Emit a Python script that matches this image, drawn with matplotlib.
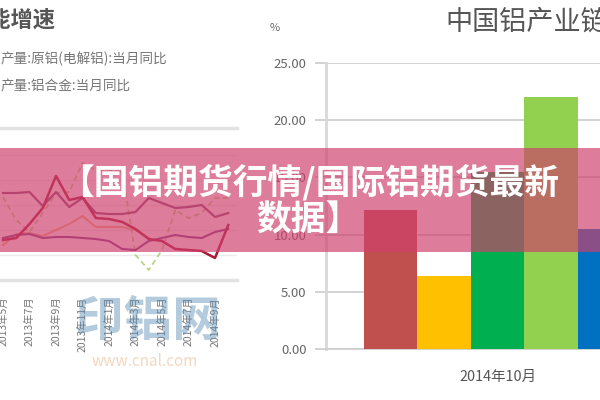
import matplotlib
matplotlib.use("Agg")
import matplotlib.pyplot as plt
from matplotlib.patches import Rectangle

plt.rcParams['font.family'] = ['Noto Sans CJK SC', 'DejaVu Sans']

months = ['2013年5月', '2013年6月', '2013年7月', '2013年8月', '2013年9月', '2013年10月',
          '2013年11月', '2013年12月', '2014年1月', '2014年2月', '2014年3月', '2014年4月',
          '2014年5月', '2014年6月', '2014年7月', '2014年8月', '2014年9月', '2014年10月']
series_red = [3.0, 3.4, 6.2, 9.4, 15.8, 11, 11.6, 7.4, 7.2, 6.6, 5.2, 3.2, 2.8, 1.2, 1, 0.8, -0.6, 6.0]
series_purple_up = [12.4, 12.4, 12.6, 9.8, 12.6, 9.6, 11.4, 8.4, 8.2, 8.2, 8.6, 11.4, 10.4, 9.4, 9.6, 10, 7.6, 8.4]
series_purple_low = [3.4, 4, 4.2, 3.4, 3.6, 3.6, 3.4, 3.2, 2.8, 1.2, 1, 2.8, 3.4, 4, 3.6, 3.4, 4.6, 5.2]
series_orange = [2, 4.2, 4.4, 3.8, 5, 6.2, 7.8, 5.6, 5.6, 5.6, 5, 3.4]
series_green = [11.6, 7, 4.6, 8.4, 12.4, 12.6, 18.4, 17, 17, 16.6, 0, -3, 1, 9, 7.4, 8.4, 11.4, 11.4]

bar_names = ['铝土矿', '氧化铝', '原铝', '铝合金', '铝材']
bar_values = [12.15, 6.4, 15.5, 22.0, 10.5]
bar_colors = ['#C0504D', '#FFC000', '#00B050', '#92D050', '#0070C0']

W, H = 600, 400
fig = plt.figure(figsize=(6, 4), dpi=100, facecolor='white')


def axes_px(x0, y0, x1, y1):
    return fig.add_axes([x0 / W, 1 - y1 / H, (x1 - x0) / W, (y1 - y0) / H])


def text_px(x, y, s, **kw):
    fig.text(x / W, 1 - y / H, s, va='center', **kw)


# left line chart
ax = axes_px(0, 128, 237, 280)
ax.set_xlim(-3 / 13.25, 234 / 13.25)
ax.set_ylim(-5, 25.4)
idx = list(range(len(months)))
ax.plot(idx[:len(series_orange)], series_orange, color='#F0A060', lw=1.5, alpha=.8)
ax.plot(idx, series_green, color='#A8C870', lw=1.3, ls=(0, (3, 2)), alpha=.8)
ax.plot(idx, series_purple_up, color='#8A4A78', lw=1.6)
ax.plot(idx, series_purple_low, color='#7A3F88', lw=1.5)
ax.plot(idx, series_red, color='#A81838', lw=1.8)
ax.set_yticks([0, 5, 10, 15, 20])
ax.yaxis.grid(True, color='#ececec', lw=1)
ax.tick_params(axis='y', length=0, labelleft=False)
ax.set_xticks(idx[::2])
ax.set_xticklabels(months[::2], rotation=90, fontsize=7.5, color='#777777')
ax.tick_params(axis='x', length=0, pad=12)
for s in ['left', 'right']:
    ax.spines[s].set_visible(False)
for s in ['top', 'bottom']:
    ax.spines[s].set_color('#e2e2e2')
    ax.spines[s].set_linewidth(2.5)
ax.patch.set_alpha(0)

# right bar chart
bx = axes_px(326, 63, 600, 349)
bx.set_xlim(-1.206, 3.916)
bx.set_ylim(0, 25)
bx.bar(range(len(bar_values)), bar_values, width=1.0, color=bar_colors, zorder=3)
bx.set_yticks([0, 5, 10, 15, 20, 25])
bx.set_yticklabels(['0.00', '5.00', '10.00', '15.00', '20.00', '25.00'], fontsize=9.5, color='#666666')
bx.yaxis.grid(True, color='#cfcfcf', lw=1.3, zorder=0)
bx.tick_params(axis='y', length=8, width=1.3, color='#cfcfcf', pad=6)
bx.set_xticks([2])
bx.set_xticklabels(['2014年10月'], fontsize=10.4, color='#555555')
bx.tick_params(axis='x', length=0, pad=15)
for s in ['top', 'right']:
    bx.spines[s].set_visible(False)
bx.spines['left'].set_color('#d8d8d8')
bx.spines['left'].set_linewidth(2)
bx.spines['bottom'].set_color('#cfcfcf')
bx.spines['bottom'].set_linewidth(1.3)

# other text
text_px(55, 20, '产能增速', ha='right', fontsize=16, fontweight='bold', color='#555555')
text_px(167, 59, '产量:原铝(电解铝):当月同比', ha='right', fontsize=9.8, color='#777777')
text_px(131, 86, '产量:铝合金:当月同比', ha='right', fontsize=9.8, color='#777777')
text_px(275, 28, '%', ha='center', fontsize=8, color='#666666')
text_px(445, 22, '中国铝产业链增速', ha='left', fontsize=19.5, fontweight='medium', color='#555555')
text_px(148, 322, '印铝网', ha='center', fontsize=35, fontweight='bold', color='#5A8CB4', alpha=.45, zorder=3)
text_px(145, 361, 'www.cnal.com', ha='center', fontsize=11, color='#E8B080', alpha=.5, zorder=3)

# banner
fig.add_artist(Rectangle((0, 1 - 252 / H), 1, 104 / H, transform=fig.transFigure,
                         facecolor='#CE406C', alpha=.68, edgecolor='none', zorder=5))
text_px(309, 182, '【国铝期货行情/国际铝期货最新', ha='center', fontsize=25,
        fontweight='bold', color='white', zorder=6)
text_px(308, 220, '数据】', ha='center', fontsize=25, fontweight='bold', color='white', zorder=6)

fig.savefig('out.png', dpi=100)
